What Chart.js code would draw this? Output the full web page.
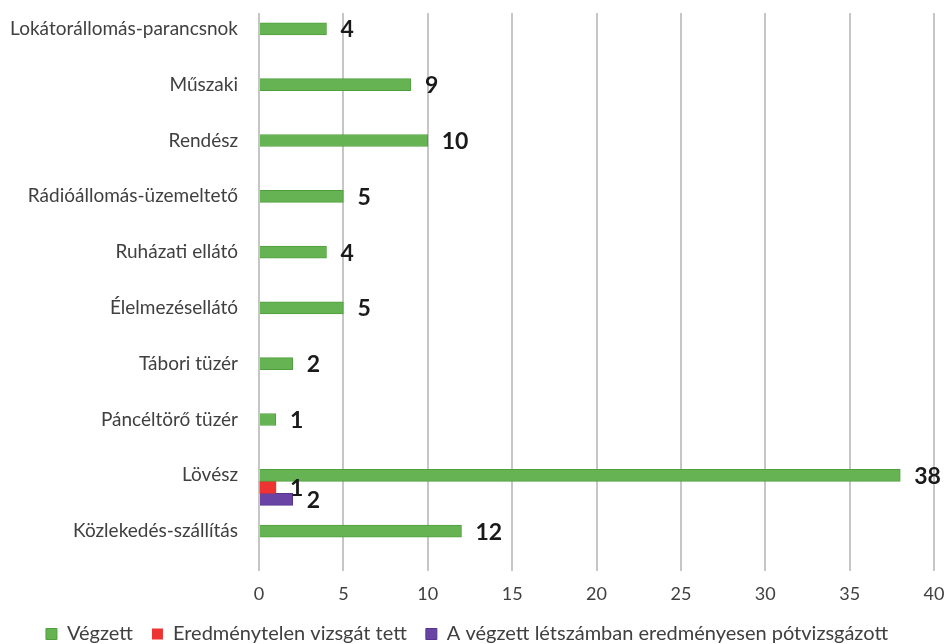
<!DOCTYPE html>
<html>
<head>
<meta charset="utf-8">
<script src="https://cdn.jsdelivr.net/npm/chart.js@4"></script>
<style>
  body { margin: 0; background: #fff; }
  #wrap { width: 944px; height: 644px; }
</style>
</head>
<body>
<div id="wrap"><canvas id="chart"></canvas></div>
<script>
const categories = [
  'Lokátorállomás-parancsnok', 'Műszaki', 'Rendész', 'Rádióállomás-üzemeltető',
  'Ruházati ellátó', 'Élelmezésellátó', 'Tábori tüzér', 'Páncéltörő tüzér',
  'Lövész', 'Közlekedés-szállítás'
];
const vegzett = [4, 9, 10, 5, 4, 5, 2, 1, 38, 12];
const eredmenytelen = [null, null, null, null, null, null, null, null, 1, null];
const potvizsga = [null, null, null, null, null, null, null, null, 2, null];
const xTicks = [0, 5, 10, 15, 20, 25, 30, 35, 40];

const font = 'Lato, "Open Sans", sans-serif';

// value labels right of each bar
const valueLabels = {
  id: 'valueLabels',
  afterDatasetsDraw(chart) {
    const ctx = chart.ctx;
    ctx.save();
    ctx.font = 'bold 23px ' + font;
    ctx.fillStyle = '#1a1a1a';
    ctx.textBaseline = 'middle';
    chart.data.datasets.forEach((ds, i) => {
      chart.getDatasetMeta(i).data.forEach((el, j) => {
        const v = ds.data[j];
        if (v == null) return;
        ctx.fillText(String(v), el.x + 14, el.y + 1);
      });
    });
    ctx.restore();
  }
};

new Chart(document.getElementById('chart'), {
  type: 'bar',
  data: {
    labels: categories,
    datasets: [
      { label: 'Végzett', data: vegzett, backgroundColor: '#66b353', borderColor: '#4fa03c', borderWidth: 1 },
      { label: 'Eredménytelen vizsgát tett', data: eredmenytelen, backgroundColor: '#ee3333', borderColor: '#ee3333', borderWidth: 0 },
      { label: 'A végzett létszámban eredményesen pótvizsgázott', data: potvizsga, backgroundColor: '#6a44a4', borderColor: '#553590', borderWidth: 1 }
    ]
  },
  options: {
    indexAxis: 'y',
    responsive: true,
    maintainAspectRatio: false,
    animation: false,
    barThickness: 12,
    layout: { padding: { left: 0, right: 10, top: 13, bottom: -10 } },
    scales: {
      x: {
        min: 0, max: 40,
        afterBuildTicks: s => { s.ticks = xTicks.map(v => ({ value: v })); },
        afterFit: s => { s.paddingLeft = 0; s.paddingRight = 0; s.height = 34; },
        grid: { color: '#c6c6c6', lineWidth: 2, drawTicks: false },
        border: { display: false },
        ticks: { color: '#404040', font: { family: font, size: 18 }, padding: 12 }
      },
      y: {
        afterFit: s => { s.width = 259; s.paddingTop = 0; s.paddingBottom = 0; },
        grid: { display: false, drawTicks: false },
        border: { display: false },
        ticks: { color: '#404040', font: { family: font, size: 19 }, padding: 21, labelOffset: -12 }
      }
    },
    plugins: {
      legend: {
        position: 'bottom',
        labels: {
          boxWidth: 11, boxHeight: 11, padding: 19,
          color: '#404040', font: { family: font, size: 20 }
        }
      },
      tooltip: { enabled: false }
    }
  },
  plugins: [valueLabels]
});
</script>
</body>
</html>
